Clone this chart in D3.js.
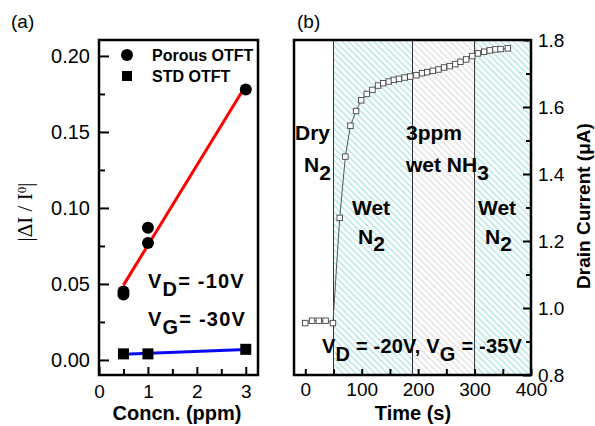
<!DOCTYPE html>
<html>
<head>
<meta charset="utf-8">
<script src="https://cdn.jsdelivr.net/npm/d3@7"></script>
<style>
  body { margin: 0; background: #fff; }
  text { font-family: "Liberation Sans", Arial, sans-serif; }
</style>
</head>
<body>
<script>
// panel (a) data
let porousConc = [0.5, 0.5, 1, 1, 3]
let porousResp = [0.043, 0.045, 0.077, 0.087, 0.178]
let stdConc = [0.5, 1, 3]
let stdResp = [0.004, 0.004, 0.007]
let aYTicks = [0, 0.05, 0.10, 0.15, 0.20]
let aYMinor = [0.025, 0.075, 0.125, 0.175]
let aXTicks = [0, 1, 2, 3]
let aXMinor = [0.5, 1.5, 2.5]

// panel (b) data
let timeS = [0, 12, 24, 36, 49, 61, 71, 80, 90, 99, 109, 119, 129, 138, 148, 157, 166, 176, 186,
    197, 207, 216, 226, 236, 246, 256, 266, 275, 285, 296, 306, 317, 327, 337, 346, 359]
let drainCurrent = [0.955, 0.962, 0.962, 0.962, 0.955, 1.269, 1.452, 1.544, 1.588, 1.620, 1.639,
    1.651, 1.664, 1.671, 1.676, 1.681, 1.684, 1.688, 1.691, 1.695, 1.701, 1.704, 1.708, 1.712,
    1.718, 1.722, 1.728, 1.735, 1.742, 1.752, 1.760, 1.765, 1.769, 1.772, 1.773, 1.775]
let regionStart = [-20, 50, 190, 300]
let regionEnd = [50, 190, 300, 400]
let regionKind = ["dry", "wet", "nh3", "wet"]
let bXTicks = [0, 50, 100, 150, 200, 250, 300, 350, 400]
let bYTicks = [0.8, 0.9, 1.0, 1.1, 1.2, 1.3, 1.4, 1.5, 1.6, 1.7, 1.8]

let svg = d3.select("body").append("svg")
    .attr("width", 595)
    .attr("height", 426)

let defs = svg.append("defs")
let hatch = (id, color) => {
    let p = defs.append("pattern")
        .attr("id", id)
        .attr("patternUnits", "userSpaceOnUse")
        .attr("width", 4.5)
        .attr("height", 4.5)
        .attr("patternTransform", "rotate(-45)")
    p.append("rect").attr("width", 4.5).attr("height", 4.5).attr("fill", "#fff")
    p.append("line")
        .attr("x1", 1).attr("y1", 0).attr("x2", 1).attr("y2", 4.5)
        .attr("stroke", color).attr("stroke-width", 1.1)
}
hatch("hatchWet", "#9edede")
hatch("hatchNh3", "#d9d9d9")
let kindFill = {dry: "#fff", wet: "url(#hatchWet)", nh3: "url(#hatchNh3)"}

// ---------- panel (a) ----------
let ax = d3.scaleLinear().domain([0, 3.25]).range([99, 258])
let ay = d3.scaleLinear().domain([-0.0099, 0.2105]).range([375, 40])

let tidy = size => g => {
    g.select(".domain").remove()
    g.selectAll(".tick line").attr("stroke", "#000").attr("stroke-width", 2)
    g.selectAll("text").attr("fill", "#000").style("font-size", size + "px")
}

svg.append("g").attr("transform", "translate(99,0)")
    .call(d3.axisLeft(ay).tickValues(aYTicks).tickSize(-10).tickPadding(9).tickFormat(d3.format(".2f")))
    .call(tidy(20))
svg.append("g").attr("transform", "translate(99,0)")
    .call(d3.axisLeft(ay).tickValues(aYMinor).tickSize(-6).tickFormat(""))
    .call(tidy(20))
svg.append("g").attr("transform", "translate(0,375)")
    .call(d3.axisBottom(ax).tickValues(aXTicks).tickSize(-8).tickPadding(10).tickFormat(d3.format("d")))
    .call(tidy(19))
svg.append("g").attr("transform", "translate(0,375)")
    .call(d3.axisBottom(ax).tickValues(aXMinor).tickSize(-6).tickFormat(""))
    .call(tidy(19))

// fit lines
let fit = (xs, ys) => {
    let mx = d3.mean(xs), my = d3.mean(ys)
    let sxy = d3.sum(xs, (x, i) => (x - mx) * (ys[i] - my))
    let sxx = d3.sum(xs, x => (x - mx) * (x - mx))
    let k = sxy / sxx
    return x => my + k * (x - mx)
}
let fitP = fit(porousConc, porousResp)
let fitS = fit(stdConc, stdResp)
let xr = d3.extent(porousConc)
svg.append("line")
    .attr("x1", ax(xr[0])).attr("y1", ay(fitP(xr[0])))
    .attr("x2", ax(xr[1])).attr("y2", ay(fitP(xr[1])))
    .attr("stroke", "#ff0000").attr("stroke-width", 3)
let xs = d3.extent(stdConc)
svg.append("line")
    .attr("x1", ax(xs[0])).attr("y1", ay(fitS(xs[0])))
    .attr("x2", ax(xs[1])).attr("y2", ay(fitS(xs[1])))
    .attr("stroke", "#0a0af0").attr("stroke-width", 3)

svg.selectAll("circle.porous")
    .data(porousConc)
    .enter()
    .append("circle")
    .attr("class", "porous")
    .attr("cx", d => ax(d))
    .attr("cy", (d, i) => ay(porousResp[i]))
    .attr("r", 6)
    .attr("fill", "#000")

svg.selectAll("rect.std")
    .data(stdConc)
    .enter()
    .append("rect")
    .attr("class", "std")
    .attr("x", d => ax(d) - 5.5)
    .attr("y", (d, i) => ay(stdResp[i]) - 5.5)
    .attr("width", 11)
    .attr("height", 11)
    .attr("fill", "#000")

// legend
svg.append("circle").attr("cx", 127).attr("cy", 55).attr("r", 6).attr("fill", "#000")
svg.append("rect").attr("x", 122).attr("y", 71).attr("width", 10).attr("height", 10).attr("fill", "#000")
svg.append("text").attr("x", 152).attr("y", 61).text("Porous OTFT")
    .style("font-size", "16px").style("font-weight", "bold")
svg.append("text").attr("x", 152).attr("y", 82).text("STD OTFT")
    .style("font-size", "16px").style("font-weight", "bold")

// bias text
let subText = (x, y, parts, size, spacing) => {
    let t = svg.append("text").attr("x", x).attr("y", y)
        .style("font-size", size + "px").style("font-weight", "bold")
        .style("letter-spacing", (spacing || 0) + "px")
    parts.forEach(p => {
        t.append("tspan").attr("dy", p[1]).text(p[0])
    })
    return t
}
subText(148, 288, [["V", 0], ["D", 8], ["= -10V", -8]], 20, 1.2)
subText(148, 326, [["V", 0], ["G", 8], ["= -30V", -8]], 20, 1.2)

svg.append("rect").attr("x", 99).attr("y", 40).attr("width", 159).attr("height", 335)
    .attr("fill", "none").attr("stroke", "#000").attr("stroke-width", 2.5)

// axis titles (a)
let ylab = svg.append("text")
    .attr("transform", "translate(32,212) rotate(-90)")
    .attr("text-anchor", "middle")
    .style("font-family", "'Liberation Serif', 'Times New Roman', serif")
    .style("font-size", "21px")
ylab.append("tspan").text("|ΔI / I")
ylab.append("tspan").attr("dy", -6).style("font-size", "13px").text("0")
ylab.append("tspan").attr("dy", 6).text("|")

svg.append("text").attr("x", 177).attr("y", 420).attr("text-anchor", "middle")
    .style("font-size", "20px").style("font-weight", "bold").text("Concn. (ppm)")
svg.append("text").attr("x", 11).attr("y", 28).style("font-size", "19px").text("(a)")

// ---------- panel (b) ----------
let bx = d3.scaleLinear().domain([-20, 400]).range([294, 531])
let by = d3.scaleLinear().domain([0.8, 1.8]).range([375, 40])

svg.selectAll("rect.region")
    .data(regionStart)
    .enter()
    .append("rect")
    .attr("class", "region")
    .attr("x", d => bx(d))
    .attr("y", 40)
    .attr("width", (d, i) => bx(regionEnd[i]) - bx(d))
    .attr("height", 335)
    .attr("fill", (d, i) => kindFill[regionKind[i]])

svg.selectAll("line.bound")
    .data(regionStart.slice(1))
    .enter()
    .append("line")
    .attr("class", "bound")
    .attr("x1", d => bx(d)).attr("x2", d => bx(d))
    .attr("y1", 40).attr("y2", 375)
    .attr("stroke", "#333").attr("stroke-width", 1)

svg.append("g").attr("transform", "translate(0,375)")
    .call(d3.axisBottom(bx).tickValues(bXTicks).tickSize(-6).tickPadding(8)
        .tickFormat(d => d % 100 === 0 ? d : ""))
    .call(tidy(19))
svg.append("g").attr("transform", "translate(531,0)")
    .call(d3.axisLeft(by).tickValues(bYTicks.filter((d, i) => i % 2 === 0)).tickSize(8).tickFormat(""))
    .call(tidy(19))
svg.append("g").attr("transform", "translate(531,0)")
    .call(d3.axisLeft(by).tickValues(bYTicks.filter((d, i) => i % 2 === 1)).tickSize(5).tickFormat(""))
    .call(tidy(19))
svg.append("g").attr("transform", "translate(531,0)")
    .call(d3.axisRight(by).tickValues(bYTicks.filter((d, i) => i % 2 === 0)).tickSize(0).tickPadding(7)
        .tickFormat(d3.format(".1f")))
    .call(tidy(19))

let line = d3.line().x(d => bx(d)).y((d, i) => by(drainCurrent[i]))
svg.append("path")
    .attr("d", line(timeS))
    .attr("fill", "none")
    .attr("stroke", "#555")
    .attr("stroke-width", 1)

svg.selectAll("rect.pt")
    .data(timeS)
    .enter()
    .append("rect")
    .attr("class", "pt")
    .attr("x", d => bx(d) - 2.75)
    .attr("y", (d, i) => by(drainCurrent[i]) - 2.75)
    .attr("width", 5.5)
    .attr("height", 5.5)
    .attr("fill", "#fff")
    .attr("stroke", "#444")
    .attr("stroke-width", 0.9)

// annotations (b)
subText(295, 140, [["Dry", 0]], 21)
subText(304, 172, [["N", 0], ["2", 8]], 21)
subText(406, 140, [["3ppm", 0]], 21)
subText(406, 172, [["wet NH", 0], ["3", 8]], 21)
subText(352, 215, [["Wet", 0]], 21)
subText(358, 244, [["N", 0], ["2", 7]], 21)
subText(478, 215, [["Wet", 0]], 21)
subText(485, 244, [["N", 0], ["2", 7]], 21)
subText(322, 353, [["V", 0], ["D", 8], [" = -20V, V", -8], ["G", 8], [" = -35V", -8]], 20, 0.2)

svg.append("rect").attr("x", 294).attr("y", 40).attr("width", 237).attr("height", 335)
    .attr("fill", "none").attr("stroke", "#000").attr("stroke-width", 2.5)

svg.append("text")
    .attr("transform", "translate(590,206) rotate(-90)")
    .attr("text-anchor", "middle")
    .style("font-size", "19px").style("font-weight", "bold")
    .text("Drain Current (μA)")
svg.append("text").attr("x", 413).attr("y", 420).attr("text-anchor", "middle")
    .style("font-size", "20px").style("font-weight", "bold").text("Time (s)")
svg.append("text").attr("x", 297).attr("y", 28).style("font-size", "19px").text("(b)")
</script>
</body>
</html>
